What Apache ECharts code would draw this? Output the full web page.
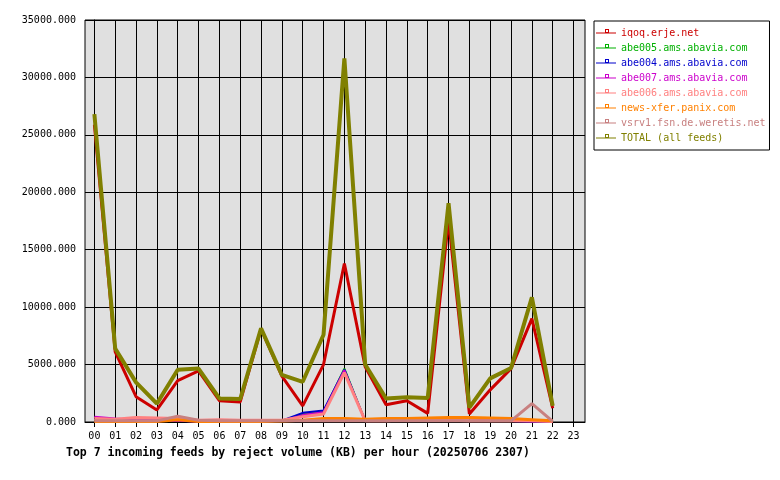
<!DOCTYPE html>
<html>
<head>
<meta charset="utf-8">
<script src="https://cdn.jsdelivr.net/npm/echarts@6/dist/echarts.min.js"></script>
<style>
html,body{margin:0;padding:0;background:#fff;}
#chart{width:780px;height:480px;}
</style>
</head>
<body>
<div id="chart"></div>
<script>
// Hours (categories)
var hours = ['00','01','02','03','04','05','06','07','08','09','10','11','12','13','14','15','16','17','18','19','20','21','22','23'];
var yTicks = [0, 5000, 10000, 15000, 20000, 25000, 30000, 35000];

// Series values (KB) per hour 00..22
var iqoq    = [25900, 6100, 2200, 1050, 3600, 4450, 1850, 1750, 8100, 4000, 1400, 5000, 13800, 4800, 1500, 1850, 750, 17600, 700, 2800, 4650, 9000, 1200];
var abe005  = [150, 150, 350, 300, 100, 80, 60, 50, 50, 100, 700, 900, 4650, 80, 80, 150, 100, 80, 80, 80, 80, 80, 50];
var abe004  = [150, 120, 100, 100, 80, 60, 50, 50, 50, 120, 800, 1000, 4550, 80, 120, 300, 100, 80, 80, 80, 80, 50, 50];
var abe007  = [450, 300, 200, 150, 100, 50, 50, 50, 50, 100, 600, 850, 4500, 80, 80, 100, 200, 80, 80, 250, 80, 50, 50];
var abe006  = [300, 250, 400, 350, 300, 150, 200, 150, 150, 150, 450, 700, 4300, 100, 100, 200, 200, 150, 100, 100, 100, 100, 50];
var newsx   = [50, 50, 50, 50, 200, 50, 50, 50, 50, 80, 150, 300, 300, 250, 300, 300, 350, 400, 400, 350, 300, 200, 100];
var vsrv1   = [100, 100, 100, 100, 500, 150, 100, 100, 100, 100, 100, 100, 100, 100, 100, 100, 100, 100, 100, 100, 100, 1600, 50];
var total   = [26800, 6400, 3450, 1600, 4550, 4650, 2050, 2000, 8150, 4100, 3500, 7600, 31650, 5000, 2050, 2150, 2100, 19050, 1250, 3800, 4700, 10850, 1400];

var names  = ['iqoq.erje.net','abe005.ams.abavia.com','abe004.ams.abavia.com','abe007.ams.abavia.com','abe006.ams.abavia.com','news-xfer.panix.com','vsrv1.fsn.de.weretis.net','TOTAL (all feeds)'];
var values = [iqoq, abe005, abe004, abe007, abe006, newsx, vsrv1, total];
var colors = ['#cc0000','#00b000','#0000cc','#cc00cc','#ff8080','#ff8000','#c88080','#808000'];
var widths = [3, 2, 2, 2, 3, 3, 3, 4];

var hourIdx = hours.map(function(h, i){ return i; });
var mono = 'DejaVu Sans Mono';
var iconPath = 'path://M0,0 M20,10 M0,4.5 L20,4.5 L20,5.5 L0,5.5 Z M9,1 L13,1 L13,5 L9,5 Z M10,2 L10,4 L12,4 L12,2 Z';

var series = names.map(function(n, k){
  return {
    name: n,
    type: 'line',
    data: values[k].map(function(v, i){ return [i, v]; }),
    showSymbol: false,
    symbol: 'none',
    lineStyle: { color: colors[k], width: widths[k] },
    itemStyle: { color: colors[k] },
    animation: false
  };
});

var chart = echarts.init(document.getElementById('chart'), null, {renderer: 'canvas'});
chart.setOption({
  backgroundColor: '#ffffff',
  animation: false,
  color: colors,
  title: {
    text: 'Top 7 incoming feeds by reject volume (KB) per hour (20250706 2307)',
    left: 66, top: 447, padding: 0,
    textStyle: { fontFamily: mono, fontWeight: 'bold', fontSize: 11.5, color: '#000' }
  },
  legend: {
    orient: 'vertical',
    left: 594, top: 21,
    padding: [7, 4, 7, 2],
    backgroundColor: '#ffffff',
    borderColor: '#000', borderWidth: 1, borderRadius: 0,
    itemWidth: 20, itemHeight: 10, itemGap: 5,
    icon: iconPath,
    itemStyle: { borderWidth: 0 },
    textStyle: { fontFamily: mono, fontSize: 10, lineHeight: 10, padding: [0,0,0,0] },
    data: names.map(function(n, k){ return { name: n, textStyle: { color: colors[k] } }; })
  },
  grid: {
    left: 85, top: 20, width: 500, height: 402,
    show: true, backgroundColor: '#e0e0e0', borderColor: '#000', borderWidth: 1,
    containLabel: false
  },
  xAxis: {
    type: 'value', min: -0.45, max: 23.55,
    axisLine: { show: true, onZero: false, lineStyle: { color: '#000', width: 1 } },
    axisTick: { show: true, length: 5, customValues: hourIdx, lineStyle: { color: '#000' } },
    axisLabel: { customValues: hourIdx, margin: 9, fontFamily: mono, fontSize: 10, color: '#000',
      formatter: function(v){ return hours[Math.round(v)]; } },
    splitLine: { show: true, lineStyle: { color: '#000', width: 1 } }
  },
  yAxis: {
    type: 'value', min: yTicks[0], max: yTicks[yTicks.length-1], interval: 5000,
    axisLine: { show: true, lineStyle: { color: '#000' } },
    axisTick: { show: true, length: 5, lineStyle: { color: '#000' } },
    axisLabel: { margin: 9, fontFamily: mono, fontSize: 10, color: '#000',
      formatter: function(v){ return v.toFixed(3); } },
    splitLine: { show: true, lineStyle: { color: '#000', width: 1 } }
  },
  series: series
});
</script>
</body>
</html>
